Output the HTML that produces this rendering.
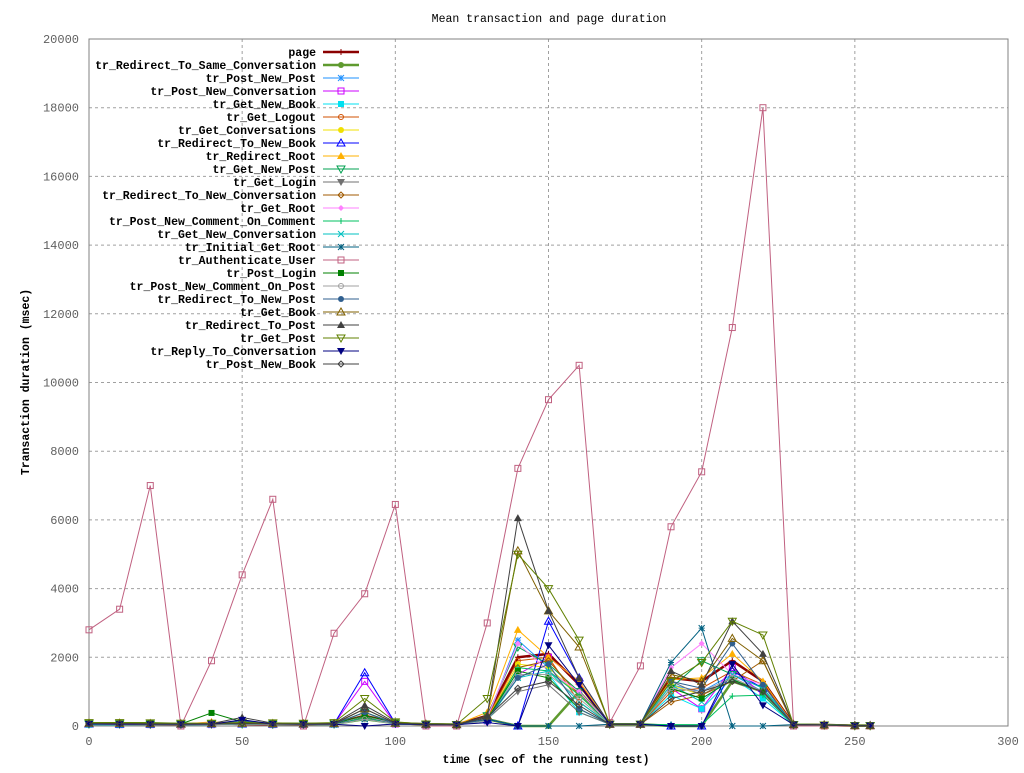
<!DOCTYPE html>
<html><head><meta charset="utf-8"><style>
body{margin:0;background:#fff;}
svg text{font-family:"Liberation Mono",monospace;font-weight:bold;font-size:11.5px;fill:#000;}
svg text.tick{font-weight:normal;fill:#606060;font-size:12px;}
</style></head><body>
<svg id="chart" width="1024" height="768" xmlns="http://www.w3.org/2000/svg"></svg>
<script>
const xs=[0,10,20,30,40,50,60,70,80,90,100,110,120,130,140,150,160,170,180,190,200,210,220,230,240,250,255];
const xTicks=[0,50,100,150,200,250,300];
const yTicks=[0,2000,4000,6000,8000,10000,12000,14000,16000,18000,20000];
const names=["page","tr_Redirect_To_Same_Conversation","tr_Post_New_Post","tr_Post_New_Conversation","tr_Get_New_Book","tr_Get_Logout","tr_Get_Conversations","tr_Redirect_To_New_Book","tr_Redirect_Root","tr_Get_New_Post","tr_Get_Login","tr_Redirect_To_New_Conversation","tr_Get_Root","tr_Post_New_Comment_On_Comment","tr_Get_New_Conversation","tr_Initial_Get_Root","tr_Authenticate_User","tr_Post_Login","tr_Post_New_Comment_On_Post","tr_Redirect_To_New_Post","tr_Get_Book","tr_Redirect_To_Post","tr_Get_Post","tr_Reply_To_Conversation","tr_Post_New_Book"];
const s0=[60,60,50,40,80,60,50,40,60,300,80,50,40,300,2000,2100,1200,50,50,1400,1300,1900,1300,40,30,10,10];
const s1=[80,80,80,60,60,80,60,60,60,200,80,50,40,200,0,0,1000,50,50,0,0,1300,1000,40,30,10,10];
const s2=[50,50,40,40,40,60,40,40,40,300,60,40,40,200,2500,1700,900,50,50,1200,1000,1500,1000,30,20,10,10];
const s3=[60,40,40,40,40,60,40,40,60,1300,60,40,40,150,1500,2000,1300,50,50,1100,500,1700,900,40,30,10,10];
const s4=[40,30,40,40,40,60,40,40,40,200,60,40,40,200,1500,1500,400,50,50,900,500,1400,800,30,20,10,10];
const s5=[60,50,50,40,60,60,40,40,40,250,60,40,40,250,1900,2000,700,50,50,1000,1100,1600,1200,40,30,10,10];
const s6=[50,40,40,40,100,60,40,40,40,200,60,40,40,200,1800,1700,900,50,50,1200,900,1400,1000,30,20,10,10];
const s7=[60,50,50,50,60,60,50,50,60,1550,80,40,40,200,0,3050,1400,50,50,0,0,1600,1100,40,30,10,10];
const s8=[80,60,60,50,120,70,50,50,60,400,70,40,40,400,2800,2000,1300,50,50,1350,1400,2100,1300,40,30,10,10];
const s9=[60,60,50,50,60,60,50,50,60,400,80,40,40,300,2300,1800,1000,50,50,1100,1900,1500,1100,40,30,10,10];
const s10=[60,60,50,50,60,60,50,50,60,300,70,40,40,200,1000,1200,400,50,50,1300,900,1400,1000,40,30,10,10];
const s11=[80,80,60,60,60,70,60,60,60,300,80,40,40,200,1700,1900,900,50,50,700,900,1300,1900,40,30,10,10];
const s12=[60,40,40,40,100,60,40,40,40,300,60,40,40,250,2400,1600,1000,50,50,1700,2400,1500,1200,40,30,10,10];
const s13=[50,40,40,40,40,60,40,40,40,250,60,40,40,150,1700,1600,900,50,50,40,40,870,900,30,20,10,10];
const s14=[40,40,40,40,40,60,40,40,40,200,60,40,40,150,1400,1600,700,50,50,1200,700,1500,1100,30,20,10,10];
const s15=[70,60,60,50,60,80,60,60,60,200,80,50,40,200,0,0,0,50,50,1850,2850,0,0,40,30,10,10];
const s16=[2800,3400,7000,0,1900,4400,6600,0,2700,3850,6450,0,0,3000,7500,9500,10500,100,1750,5800,7400,11600,18000,0,0,0,0];
const s17=[80,80,80,60,380,120,80,80,70,300,100,50,40,200,1600,1400,500,50,50,1100,800,1350,1000,40,30,10,10];
const s18=[60,40,40,40,40,60,40,40,40,200,60,40,40,150,1500,1500,800,50,50,1100,1000,1400,1000,30,20,10,10];
const s19=[60,60,50,50,60,150,60,50,60,400,70,40,40,200,1400,1800,500,50,50,1300,1100,2400,1200,40,30,10,10];
const s20=[80,80,70,60,70,80,70,60,70,500,80,50,40,300,5100,3350,2300,50,50,1500,1300,2550,1900,40,30,10,10];
const s21=[80,80,70,60,70,250,80,60,80,600,100,50,40,300,6050,3350,1400,50,50,1600,1200,3050,2100,40,30,10,10];
const s22=[100,100,90,80,80,100,90,80,100,800,120,60,40,800,5000,4000,2500,50,50,1300,1850,3050,2650,40,30,10,10];
const s23=[60,50,50,50,50,180,60,50,50,0,60,40,40,100,0,2350,1200,50,50,0,0,1800,600,40,30,10,10];
const s24=[70,70,60,60,60,70,60,60,60,500,80,50,40,250,1100,1300,600,50,50,800,1000,1300,1000,40,30,10,10];
const series=[s0,s1,s2,s3,s4,s5,s6,s7,s8,s9,s10,s11,s12,s13,s14,s15,s16,s17,s18,s19,s20,s21,s22,s23,s24];
const colors=["#8b0000","#5f9a2f","#1e90ff","#cc00ff","#00e0f0","#d05000","#f0e000","#0000ff","#ffb000","#00a050","#707070","#a05a00","#ff80ff","#00c060","#00c0c0","#006080","#c06080","#008000","#a0a0a0","#2f5f8f","#806000","#404040","#608000","#000080","#404040"];
const marks=["plus","circf","star","sq","sqf","circ","circf","tri","trif","tridn","tridnf","dia","diaf","plus","x","star","sq","sqf","circ","circf","tri","trif","tridn","tridnf","dia"];
const L=89,R=1008,T=39,B=726;
const X=v=>L+(v-0)/300*(R-L);
const Y=v=>B-v/20000*(B-T);
const svg=document.getElementById('chart');
const NS="http://www.w3.org/2000/svg";
function mk(tag,attrs,parent){const e=document.createElementNS(NS,tag);for(const k in attrs)e.setAttribute(k,attrs[k]);(parent||svg).appendChild(e);return e;}
xTicks.forEach(t=>{const x=X(t);
 if(t>0&&t<300){const g=mk('line',{x1:x,y1:T,x2:x,y2:B,stroke:'#a0a0a0','stroke-dasharray':'3,3'});
 
 }
 const tx=mk('text',{x:x,y:B+19,'text-anchor':'middle',class:'tick'});tx.textContent=t;
 
 
});
yTicks.forEach(t=>{const y=Y(t);
 if(t>0&&t<20000){const g=mk('line',{x1:L,y1:y,x2:R,y2:y,stroke:'#a0a0a0','stroke-dasharray':'3,3'});
 
 }
 const tx=mk('text',{x:L-10,y:y+4,'text-anchor':'end',class:'tick'});tx.textContent=t;
 
 
});
const frame=mk('rect',{x:L,y:T,width:R-L,height:B-T,fill:'none',stroke:'#808080'});


function marker(type,x,y,c,parent){
 const s=3;
 switch(type){
 case 'plus':mk('path',{d:`M${x-s} ${y}H${x+s}M${x} ${y-s}V${y+s}`,stroke:c,fill:'none'},parent);break;
 case 'x':mk('path',{d:`M${x-s} ${y-s}L${x+s} ${y+s}M${x-s} ${y+s}L${x+s} ${y-s}`,stroke:c,fill:'none'},parent);break;
 case 'star':mk('path',{d:`M${x-s} ${y}H${x+s}M${x} ${y-s}V${y+s}M${x-s} ${y-s}L${x+s} ${y+s}M${x-s} ${y+s}L${x+s} ${y-s}`,stroke:c,fill:'none'},parent);break;
 case 'sq':mk('rect',{x:x-s,y:y-s,width:2*s,height:2*s,stroke:c,fill:'none'},parent);break;
 case 'sqf':mk('rect',{x:x-s,y:y-s,width:2*s,height:2*s,fill:c},parent);break;
 case 'circ':mk('circle',{cx:x,cy:y,r:2.5,stroke:c,fill:'none'},parent);break;
 case 'circf':mk('circle',{cx:x,cy:y,r:3,fill:c},parent);break;
 case 'tri':mk('path',{d:`M${x} ${y-s-1}L${x+s+1} ${y+s}L${x-s-1} ${y+s}Z`,stroke:c,fill:'none'},parent);break;
 case 'trif':mk('path',{d:`M${x} ${y-s-1}L${x+s+1} ${y+s}L${x-s-1} ${y+s}Z`,fill:c},parent);break;
 case 'tridn':mk('path',{d:`M${x} ${y+s+1}L${x+s+1} ${y-s}L${x-s-1} ${y-s}Z`,stroke:c,fill:'none'},parent);break;
 case 'tridnf':mk('path',{d:`M${x} ${y+s+1}L${x+s+1} ${y-s}L${x-s-1} ${y-s}Z`,fill:c},parent);break;
 case 'dia':mk('path',{d:`M${x} ${y-s}L${x+s} ${y}L${x} ${y+s}L${x-s} ${y}Z`,stroke:c,fill:'none'},parent);break;
 case 'diaf':mk('path',{d:`M${x} ${y-s}L${x+s} ${y}L${x} ${y+s}L${x-s} ${y}Z`,fill:c},parent);break;
 }
}
series.forEach((d,i)=>{
 const g=mk('g',{});
 
 
 const w=(i<2)?2.5:1;
 mk('polyline',{points:d.map((v,j)=>X(xs[j])+','+Y(v)).join(' '),fill:'none',stroke:colors[i],'stroke-width':w},g);
 d.forEach((v,j)=>marker(marks[i],X(xs[j]),Y(v),colors[i],g));
 const ly=52+i*13;
 const lg=mk('g',{});
 
 
 const t=mk('text',{x:316,y:ly+4,'text-anchor':'end'},lg);t.textContent=names[i];
 mk('line',{x1:323,y1:ly,x2:359,y2:ly,stroke:colors[i],'stroke-width':w},lg);
 marker(marks[i],341,ly,colors[i],lg);
});
const title=mk('text',{x:549,y:22,'text-anchor':'middle','font-weight':'normal',style:'font-weight:normal'});title.textContent='Mean transaction and page duration';


const xl=mk('text',{x:546,y:763,'text-anchor':'middle'});xl.textContent='time (sec of the running test)';


const yl=mk('text',{x:29,y:382,'text-anchor':'middle',transform:'rotate(-90 29 382)'});yl.textContent='Transaction duration (msec)';


</script>
</body></html>
